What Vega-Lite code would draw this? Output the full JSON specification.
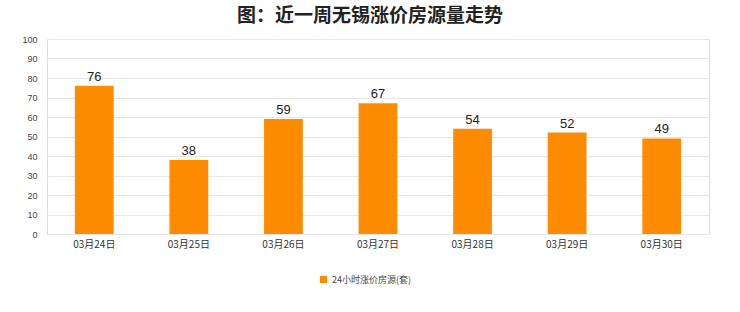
{
  "$schema": "https://vega.github.io/schema/vega-lite/v6.json",
  "autosize": "none",
  "width": 662,
  "height": 195,
  "padding": {"left": 47, "top": 39, "right": 31, "bottom": 78},
  "background": "white",
  "title": {
    "text": "图：近一周无锡涨价房源量走势",
    "font": "Noto Sans CJK SC",
    "fontSize": 19,
    "fontWeight": "bold",
    "color": "#222222",
    "anchor": "middle",
    "frame": "group",
    "dx": -8,
    "offset": 9
  },
  "data": {
    "values": [
      {"date": "03月24日", "value": 76, "series": "24小时涨价房源(套)"},
      {"date": "03月25日", "value": 38, "series": "24小时涨价房源(套)"},
      {"date": "03月26日", "value": 59, "series": "24小时涨价房源(套)"},
      {"date": "03月27日", "value": 67, "series": "24小时涨价房源(套)"},
      {"date": "03月28日", "value": 54, "series": "24小时涨价房源(套)"},
      {"date": "03月29日", "value": 52, "series": "24小时涨价房源(套)"},
      {"date": "03月30日", "value": 49, "series": "24小时涨价房源(套)"}
    ]
  },
  "config": {
    "view": {"stroke": "#dddddd", "strokeWidth": 1},
    "font": "Noto Sans CJK SC"
  },
  "encoding": {
    "x": {
      "field": "date",
      "type": "nominal",
      "sort": null,
      "scale": {"paddingInner": 0.59, "paddingOuter": 0.295},
      "axis": {
        "title": null,
        "labelAngle": 0,
        "labelFontSize": 10,
        "labelColor": "#333333",
        "labelFont": "Noto Sans CJK SC",
        "domain": false,
        "ticks": false,
        "labelPadding": 5
      }
    },
    "y": {
      "field": "value",
      "type": "quantitative",
      "scale": {"domain": [0, 100]},
      "axis": {
        "title": null,
        "values": [0, 10, 20, 30, 40, 50, 60, 70, 80, 90, 100],
        "labelOverlap": false,
        "labelFontSize": 9,
        "labelColor": "#444444",
        "labelFont": "Liberation Sans",
        "domain": false,
        "ticks": false,
        "gridColor": "#e6e6e6",
        "labelPadding": 10
      }
    }
  },
  "layer": [
    {
      "mark": {"type": "bar", "color": "#FF8C00"},
      "encoding": {
        "color": {
          "field": "series",
          "type": "nominal",
          "scale": {"range": ["#FF8C00"]},
          "legend": {
            "title": null,
            "orient": "none",
            "legendX": 272,
            "legendY": 236,
            "direction": "horizontal",
            "symbolType": "square",
            "symbolSize": 50,
            "labelFontSize": 9,
            "labelColor": "#444444",
            "labelFont": "Noto Sans CJK SC"
          }
        }
      }
    },
    {
      "mark": {"type": "text", "dy": -9, "fontSize": 13, "color": "#222222", "font": "Liberation Sans"},
      "encoding": {"text": {"field": "value", "type": "quantitative"}}
    }
  ]
}
